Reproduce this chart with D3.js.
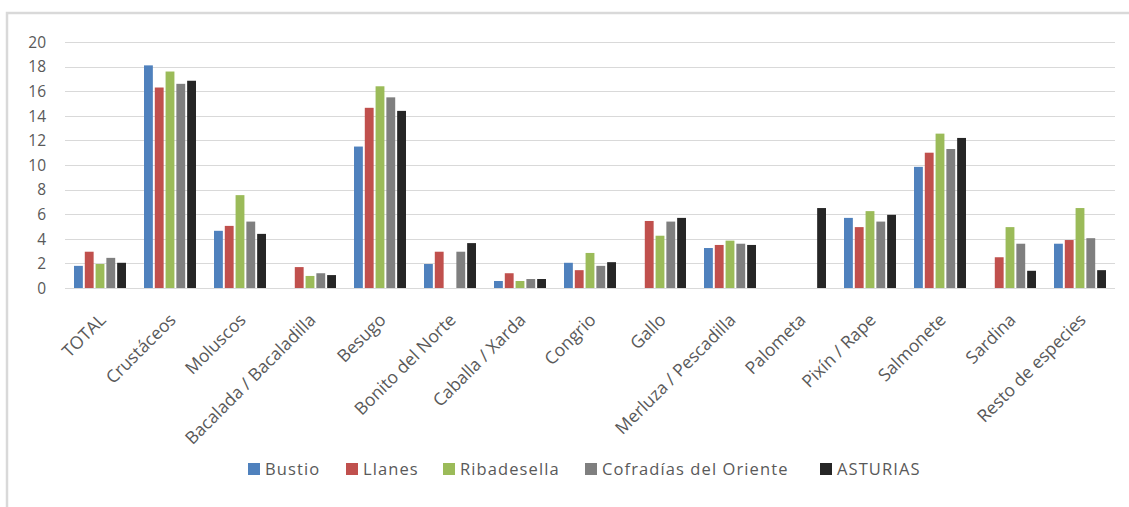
<!DOCTYPE html>
<html><head><meta charset="utf-8">
<script src="https://cdn.jsdelivr.net/npm/d3@7"></script>
<style>
html,body{margin:0;padding:0;background:#fff;}
svg{display:block;}
text{font-family:"Open Sans",sans-serif;fill:#595959;}
</style></head>
<body>
<svg id="chart" width="1129" height="507"></svg>
<script>
const categories = ["TOTAL","Crustáceos","Moluscos","Bacalada / Bacaladilla","Besugo","Bonito del Norte","Caballa / Xarda","Congrio","Gallo","Merluza / Pescadilla","Palometa","Pixín / Rape","Salmonete","Sardina","Resto de especies"];
const seriesNames = ["Bustio","Llanes","Ribadesella","Cofradías del Oriente","ASTURIAS"];
const colors = ["#4F81BD","#C0504D","#9BBB59","#7F7F7F","#262626"];
const bustio      = [1.8,18.1,4.65,null,11.5,1.95,0.57,2.05,null,3.25,null,5.7,9.85,null,3.6];
const llanes      = [2.95,16.3,5.05,1.7,14.65,2.95,1.2,1.45,5.45,3.5,null,4.95,11.0,2.5,3.9];
const ribadesella = [1.95,17.6,7.55,0.98,16.4,null,0.57,2.85,4.25,3.85,null,6.25,12.55,4.95,6.5];
const cofradias   = [2.45,16.6,5.4,1.2,15.5,2.95,0.73,1.8,5.4,3.6,null,5.4,11.3,3.6,4.05];
const asturias    = [2.05,16.85,4.4,1.05,14.4,3.65,0.73,2.1,5.7,3.5,6.5,5.95,12.2,1.4,1.45];
const yTicks = [0,2,4,6,8,10,12,14,16,18,20];

const values = [bustio,llanes,ribadesella,cofradias,asturias];
const svg = d3.select("#chart");

// outer frame
svg.append("rect").attr("x",7).attr("y",13).attr("width",1140).attr("height",510)
  .attr("fill","none").attr("stroke","#D9D9D9").attr("stroke-width",2.5);

const x0 = d3.scaleBand().domain(categories).range([65,1115]).padding(0);
const x1 = d3.scaleBand().domain(seriesNames).range([0,52]).paddingInner(0.18).paddingOuter(0);
const y = d3.scaleLinear().domain([0,20]).range([288,42]);
const groupOffset = (x0.bandwidth()-52)/2;

// gridlines
svg.append("g").selectAll("line").data(yTicks).join("line")
  .attr("x1",65).attr("x2",1115)
  .attr("y1",d=>Math.round(y(d))+0.5).attr("y2",d=>Math.round(y(d))+0.5)
  .attr("stroke","#D9D9D9").attr("stroke-width",1);

// y axis labels
const yAxis = d3.axisLeft(y).tickValues(yTicks).tickSize(0).tickPadding(0);
const gy = svg.append("g").attr("transform","translate(46,0)").call(yAxis);
gy.select(".domain").remove();
gy.selectAll("text").attr("font-family","Open Sans").attr("font-size",15.5).attr("fill","#595959").attr("dy","0.34em");

// bars
const groups = svg.append("g").selectAll("g").data(categories).join("g")
  .attr("transform",d=>`translate(${x0(d)+groupOffset},0)`);
groups.selectAll("rect").data((c,i)=>seriesNames.map((s,j)=>({s,j,v:values[j][i]})).filter(d=>d.v!=null))
  .join("rect")
  .attr("x",d=>x1(d.s)).attr("width",x1.bandwidth())
  .attr("y",d=>y(d.v)).attr("height",d=>y(0)-y(d.v))
  .attr("fill",d=>colors[d.j]);

// x axis labels
const xAxis = d3.axisBottom(x0).tickSize(0).tickPadding(0);
const gx = svg.append("g").attr("transform","translate(0,288)").call(xAxis);
gx.select(".domain").remove();
gx.selectAll("text")
  .attr("font-family","Open Sans").attr("font-size",17.5).attr("fill","#595959")
  .attr("text-anchor","end").attr("y",0).attr("dy",0)
  .attr("transform","translate(7,33) rotate(-45)");

// legend
const legendX = [248,346,443,585,820];
const lg = svg.append("g").selectAll("g").data(seriesNames).join("g")
  .attr("transform",(d,i)=>`translate(${legendX[i]},462)`);
lg.append("rect").attr("width",12).attr("height",12).attr("y",1).attr("fill",(d,i)=>colors[i]);
lg.append("text").attr("x",17).attr("y",13).attr("font-size",16.5).attr("letter-spacing",1.1).attr("fill","#595959").text(d=>d);
</script>
</body></html>
